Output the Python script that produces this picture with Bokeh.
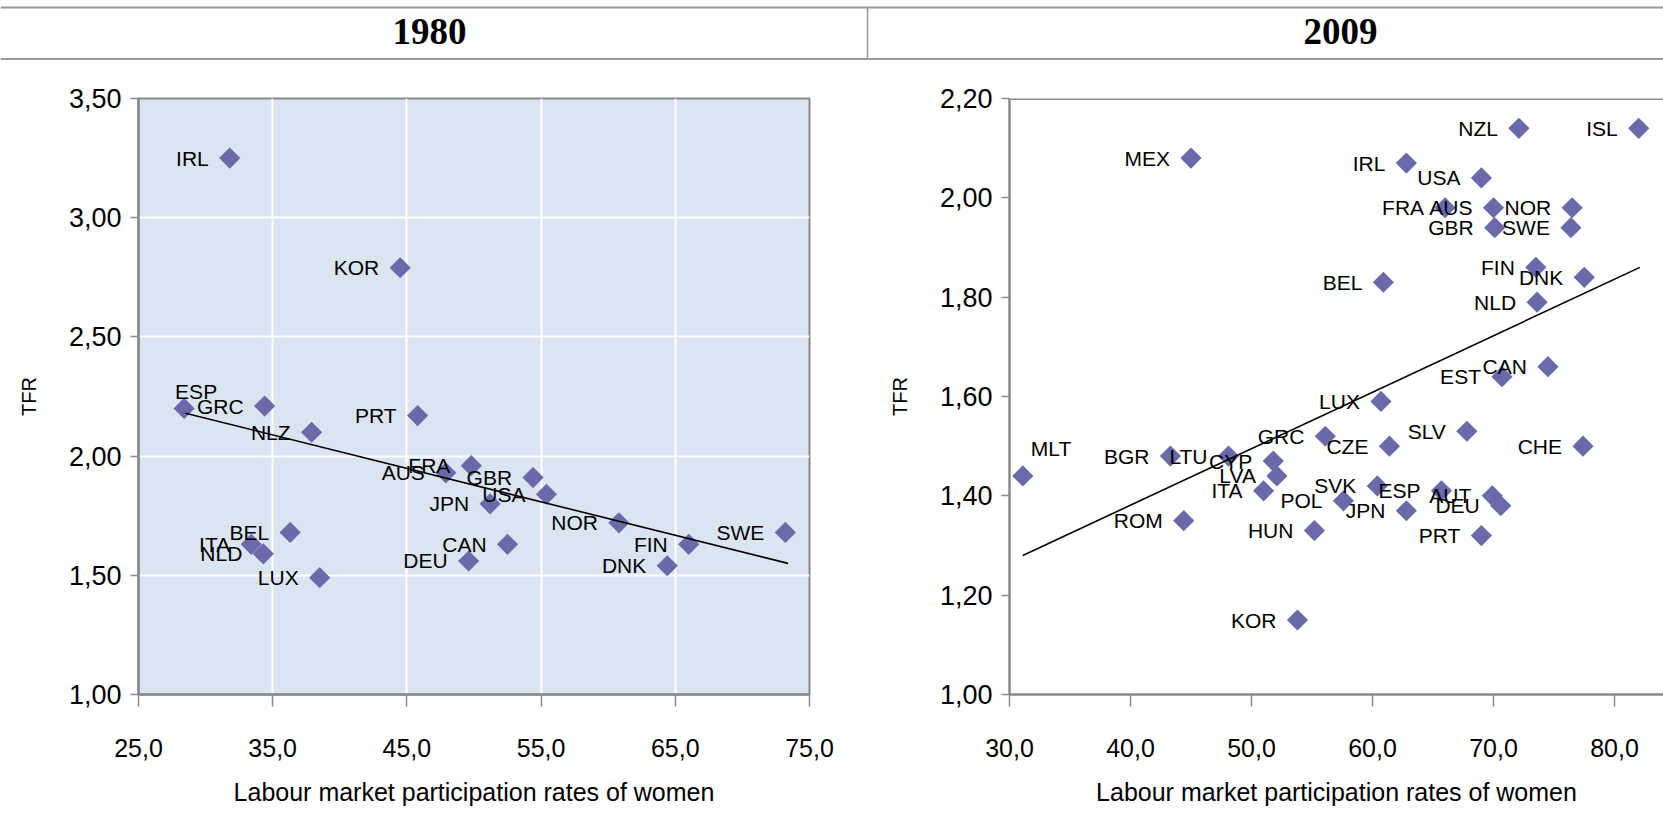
import numpy as np
from bokeh.plotting import figure
from bokeh.layouts import column, row
from bokeh.models import Range1d, Span, Label, FixedTicker, ColumnDataSource
from bokeh.core.properties import value
from bokeh.embed import file_html
from bokeh.resources import INLINE

# ---------------- data ----------------
countries_1980 = ["IRL", "KOR", "ESP", "GRC", "NLZ", "PRT", "FRA", "AUS", "GBR", "USA", "JPN",
                  "CAN", "DEU", "NOR", "FIN", "DNK", "SWE", "BEL", "ITA", "NLD", "LUX"]
lfpr_1980 = [31.8, 44.5, 28.4, 34.4, 37.9, 45.8, 49.8, 47.9, 54.4, 55.4, 51.2,
             52.5, 49.6, 60.8, 66.0, 64.4, 73.2, 36.3, 33.4, 34.3, 38.5]
tfr_1980 = [3.25, 2.79, 2.20, 2.21, 2.10, 2.17, 1.96, 1.93, 1.91, 1.84, 1.80,
            1.63, 1.56, 1.72, 1.63, 1.54, 1.68, 1.68, 1.63, 1.59, 1.49]
trend_x_1980 = [28.5, 73.4]
trend_y_1980 = [2.18, 1.55]

countries_2009 = ["MEX", "NZL", "ISL", "IRL", "USA", "FRA", "AUS", "GBR", "NOR", "SWE", "FIN",
                  "DNK", "NLD", "BEL", "CAN", "EST", "LUX", "GRC", "CZE", "SLV", "CHE", "MLT",
                  "BGR", "LTU", "CYP", "LVA", "ITA", "POL", "SVK", "ESP", "JPN", "AUT", "DEU",
                  "PRT", "ROM", "HUN", "KOR"]
lfpr_2009 = [45.0, 72.1, 82.0, 62.8, 69.0, 66.0, 70.0, 70.1, 76.5, 76.4, 73.5,
             77.5, 73.6, 60.9, 74.5, 70.7, 60.7, 56.1, 61.4, 67.8, 77.4, 31.1,
             43.3, 48.1, 51.8, 52.1, 51.0, 57.6, 60.4, 65.7, 62.8, 69.9, 70.6,
             69.0, 44.4, 55.2, 53.8]
tfr_2009 = [2.08, 2.14, 2.14, 2.07, 2.04, 1.98, 1.98, 1.94, 1.98, 1.94, 1.86,
            1.84, 1.79, 1.83, 1.66, 1.64, 1.59, 1.52, 1.50, 1.53, 1.50, 1.44,
            1.48, 1.48, 1.47, 1.44, 1.41, 1.39, 1.42, 1.41, 1.37, 1.40, 1.38,
            1.32, 1.35, 1.33, 1.15]
trend_x_2009 = [31.1, 82.1]
trend_y_2009 = [1.28, 1.86]

x_ticks_1980 = [25.0, 35.0, 45.0, 55.0, 65.0, 75.0]
x_labels_1980 = ["25,0", "35,0", "45,0", "55,0", "65,0", "75,0"]
y_ticks_1980 = [1.0, 1.5, 2.0, 2.5, 3.0, 3.5]
y_labels_1980 = ["1,00", "1,50", "2,00", "2,50", "3,00", "3,50"]
x_ticks_2009 = [30.0, 40.0, 50.0, 60.0, 70.0, 80.0]
x_labels_2009 = ["30,0", "40,0", "50,0", "60,0", "70,0", "80,0"]
y_ticks_2009 = [1.0, 1.2, 1.4, 1.6, 1.8, 2.0, 2.2]
y_labels_2009 = ["1,00", "1,20", "1,40", "1,60", "1,80", "2,00", "2,20"]

panel_titles = ["1980", "2009"]
x_title = "Labour market participation rates of women"
y_title = "TFR"

# ---------------- style ----------------
FONT = "Liberation Sans"
MARK = "#6a6aaa"
AXC = "#8a8a8a"
PLACE = {"left": ("right", -21, 0), "above": ("center", 12, -17), "above_right": ("left", 8, -27)}
LABEL_POS = {"1980": {"ESP": "above"}, "2009": {"MLT": "above_right"}}
FIG_H = 757


def make_panel(key, names, xs, ys, tx, ty, xr, yr, xt, xl, yt, yl, width, mbl, mbr, shaded):
    p = figure(width=width, height=FIG_H, x_range=Range1d(*xr), y_range=Range1d(*yr),
               output_backend="svg", toolbar_location=None,
               min_border_left=mbl, min_border_right=mbr, min_border_top=38,
               min_border_bottom=FIG_H - 634)
    p.border_fill_color = "white"
    if shaded:
        p.background_fill_color = "#dbe5f1"
        p.outline_line_color = AXC
        p.outline_line_width = 2
        p.xgrid.ticker = FixedTicker(ticks=xt)
        p.ygrid.ticker = FixedTicker(ticks=yt)
        p.grid.grid_line_color = "white"
        p.grid.grid_line_width = 2
    else:
        p.background_fill_color = "white"
        p.outline_line_color = None
        p.grid.visible = False
        p.add_layout(Span(location=yr[1], dimension="width", line_color=AXC, line_width=3))

    xa = p.below[0]
    ya = p.left[0]
    for ax, ticks, labels in ((xa, xt, xl), (ya, yt, yl)):
        ax.ticker = FixedTicker(ticks=ticks)
        ax.major_label_overrides = {t: l for t, l in zip(ticks, labels)}
        ax.axis_line_color = AXC
        ax.axis_line_width = 2.5
        ax.major_tick_line_color = AXC
        ax.major_tick_line_width = 1.5
        ax.minor_tick_line_color = None
        ax.major_tick_in = 0
        ax.major_label_text_font = FONT
        ax.major_label_text_color = "black"
        ax.axis_label_text_font = FONT
        ax.axis_label_text_font_style = "normal"
        ax.axis_label_text_color = "black"

    xa.major_label_text_font_size = "25px"
    xa.major_tick_out = 12
    xa.major_label_standoff = 32
    xa.axis_label = x_title
    xa.axis_label_text_font_size = "25px"
    xa.axis_label_standoff = 18
    ya.major_label_text_font_size = "27px"
    ya.major_tick_out = 8
    ya.major_label_standoff = 9
    ya.axis_label = y_title
    ya.axis_label_text_font_size = "20px"
    ya.axis_label_standoff = 26

    pos = [LABEL_POS[key].get(n, "left") for n in names]
    src = ColumnDataSource(dict(x=xs, y=ys, name=names,
                                align=[PLACE[k][0] for k in pos],
                                dx=[PLACE[k][1] for k in pos],
                                dy=[PLACE[k][2] for k in pos]))
    p.scatter("x", "y", source=src, marker="square", size=15, angle=np.pi / 4,
              fill_color=MARK, line_color=None)
    p.line(tx, ty, line_color="black", line_width=1.6)
    p.text("x", "y", text="name", source=src, text_align="align", text_baseline="middle",
           x_offset="dx", y_offset="dy", text_font=value(FONT), text_font_size="21px",
           text_color="black")
    return p


left = make_panel("1980", countries_1980, lfpr_1980, tfr_1980, trend_x_1980, trend_y_1980,
                  (25, 75), (1.0, 3.5), x_ticks_1980, x_labels_1980, y_ticks_1980, y_labels_1980,
                  867, 138, 58, True)
right = make_panel("2009", countries_2009, lfpr_2009, tfr_2009, trend_x_2009, trend_y_2009,
                   (30, 84.05), (1.0, 2.2), x_ticks_2009, x_labels_2009, y_ticks_2009, y_labels_2009,
                   796, 142, 0, False)

HDR_H = 60
header = figure(width=1663, height=HDR_H, x_range=Range1d(0, 1663), y_range=Range1d(0, HDR_H),
                output_backend="svg", toolbar_location=None, min_border=0,
                x_axis_type=None, y_axis_type=None)
header.grid.visible = False
header.outline_line_color = None
for loc in (HDR_H - 7, 1.5):
    header.add_layout(Span(location=loc, dimension="width", line_color="#9a9a9a", line_width=2))
header.segment(x0=[867], y0=[1.5], x1=[867], y1=[HDR_H - 7], line_color="#9a9a9a", line_width=1.5)
for xc, txt in zip((429, 1340), panel_titles):
    header.add_layout(Label(x=xc, y=HDR_H - 31, text=txt, text_align="center", text_baseline="middle",
                            text_font="Liberation Serif", text_font_style="bold",
                            text_font_size="37px", text_color="black"))

layout = column(header, row(left, right, spacing=0), spacing=0)
open("out.html", "w").write(file_html(layout, INLINE))
